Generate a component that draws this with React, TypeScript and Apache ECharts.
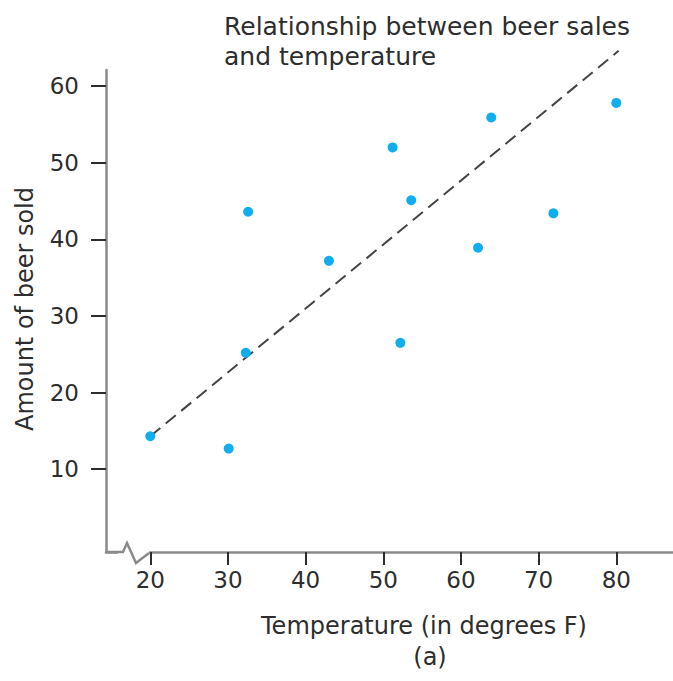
import React, { useEffect, useRef } from "react";
import * as echarts from "echarts";

const temperatures = [20, 30.1, 32.3, 32.6, 43.0, 51.2, 52.2, 53.6, 62.2, 63.9, 71.9, 80.0];
const beerSold = [14.3, 12.7, 25.2, 43.6, 37.2, 52.0, 26.5, 45.1, 38.9, 55.9, 43.4, 57.8];
const trendX = [20, 80.3];
const trendY = [14.3, 64.6];
const xTicks = [20, 30, 40, 50, 60, 70, 80];
const yTicks = [10, 20, 30, 40, 50, 60];

const FONT = "DejaVu Sans";
const TEXT = "#2d2d2d";
const AXIS = "#8a8a8a";

export default function App() {
  const ref = useRef<HTMLDivElement>(null);
  useEffect(() => {
    if (!ref.current) return;
    const chart = echarts.init(ref.current, undefined, { renderer: "svg" });
    chart.setOption({
      animation: false,
      backgroundColor: "#ffffff",
      title: {
        text: "Relationship between beer sales\nand temperature",
        left: 219,
        top: 6,
        textStyle: { fontFamily: FONT, fontSize: 25, fontWeight: "normal", color: TEXT, lineHeight: 30 },
      },
      grid: { left: 106, right: 0, top: 70, bottom: 129, containLabel: false },
      xAxis: {
        type: "value",
        min: 14.3,
        max: 87.3,
        splitLine: { show: false },
        axisLine: { show: true, onZero: false, lineStyle: { color: AXIS, width: 2.5 } },
        axisTick: { show: true, inside: false, length: 13, customValues: xTicks, lineStyle: { color: TEXT, width: 2 } },
        axisLabel: { customValues: xTicks, margin: 16, fontFamily: FONT, fontSize: 23, color: TEXT },
      },
      yAxis: {
        type: "value",
        min: -0.8,
        max: 62.1,
        splitLine: { show: false },
        axisLine: { show: true, onZero: false, lineStyle: { color: AXIS, width: 2.5 } },
        axisTick: { show: true, inside: false, length: 15, customValues: yTicks, lineStyle: { color: TEXT, width: 2 } },
        axisLabel: { customValues: yTicks, margin: 27, fontFamily: FONT, fontSize: 23, color: TEXT },
      },
      series: [
        {
          type: "line",
          data: trendX.map((x, i) => [x, trendY[i]]),
          showSymbol: false,
          symbol: "none",
          clip: false,
          lineStyle: { color: "#444444", width: 2, type: [13, 7] },
          z: 2,
        },
        {
          type: "scatter",
          data: temperatures.map((t, i) => [t, beerSold[i]]),
          symbolSize: 10,
          itemStyle: { color: "#10aeef", opacity: 1 },
          z: 3,
        },
      ],
      graphic: [
        { type: "rect", shape: { x: 118, y: 548, width: 31, height: 9 }, style: { fill: "#ffffff" }, z: 100 },
        {
          type: "polyline",
          shape: { points: [[107, 552], [123, 552], [127, 543], [136, 563], [149, 553]] },
          style: { stroke: AXIS, lineWidth: 2.5, fill: null },
          z: 101,
        },
        {
          type: "text",
          x: 25,
          y: 309,
          rotation: Math.PI / 2,
          style: { text: "Amount of beer sold", fontFamily: FONT, fontSize: 24, fill: TEXT, align: "center", verticalAlign: "middle" },
          z: 100,
        },
        {
          type: "text",
          x: 424,
          y: 626,
          style: { text: "Temperature (in degrees F)", fontFamily: FONT, fontSize: 24, fill: TEXT, align: "center", verticalAlign: "middle" },
          z: 100,
        },
        {
          type: "text",
          x: 430,
          y: 657,
          style: { text: "(a)", fontFamily: FONT, fontSize: 24, fill: TEXT, align: "center", verticalAlign: "middle" },
          z: 100,
        },
      ],
    });
    return () => chart.dispose();
  }, []);
  return <div ref={ref} style={{ position: "fixed", left: 0, top: 0, width: 673, height: 681 }} />;
}
